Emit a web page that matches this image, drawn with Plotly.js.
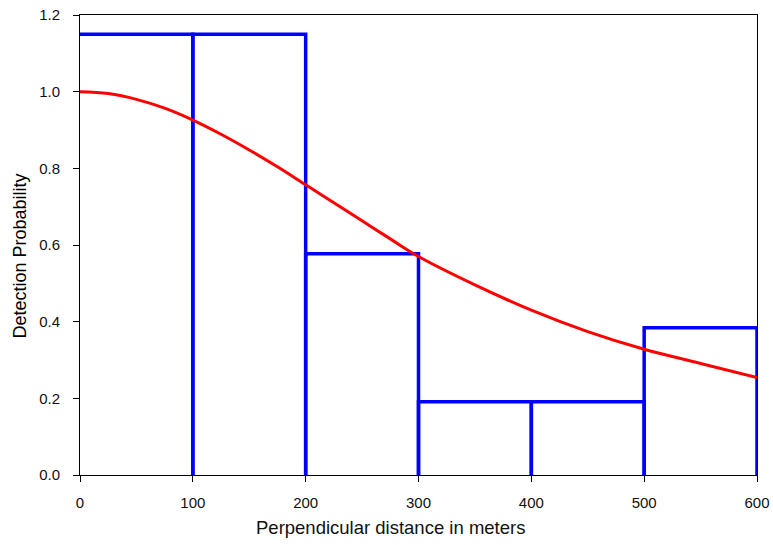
<!DOCTYPE html>
<html>
<head>
<meta charset="utf-8">
<script src="https://cdn.plot.ly/plotly-3.0.1.min.js"></script>
<style>html,body{margin:0;padding:0;background:#fff;}#chart{width:773px;height:545px;}</style>
</head>
<body>
<div id="chart"></div>
<script>
// Histogram bins (perpendicular distance, m) and scaled heights
const binEdges = [0, 100, 200, 300, 400, 500, 600];
const binHeights = [1.15, 1.15, 0.577, 0.191, 0.191, 0.384];

// Fitted detection function
const curveX = [0, 25, 50, 75, 100, 125, 150, 175, 200, 225, 250, 275, 300, 350, 400, 450, 500, 550, 600];
const curveY = [1.0, 0.995, 0.980, 0.957, 0.926, 0.889, 0.848, 0.804, 0.757, 0.710, 0.663, 0.616, 0.570, 0.496, 0.430, 0.374, 0.328, 0.291, 0.254];

const xTicks = [0, 100, 200, 300, 400, 500, 600];
const yTicks = [0, 0.2, 0.4, 0.6, 0.8, 1.0, 1.2];

const xTitle = 'Perpendicular distance in meters';
const yTitle = 'Detection Probability';

// Build bar outlines; the first bar's left edge lies on the axis line, so start at its top
const hx = [], hy = [];
for (let i = 0; i < binHeights.length; i++) {
  if (i === 0) {
    hx.push(binEdges[i], binEdges[i + 1], binEdges[i + 1], null);
    hy.push(binHeights[i], binHeights[i], 0, null);
  } else {
    hx.push(binEdges[i], binEdges[i], binEdges[i + 1], binEdges[i + 1], null);
    hy.push(0, binHeights[i], binHeights[i], 0, null);
  }
}

const traces = [
  {x: hx, y: hy, mode: 'lines', type: 'scatter', line: {color: '#0000ff', width: 3.5}, hoverinfo: 'skip', connectgaps: false},
  {x: curveX, y: curveY, mode: 'lines', type: 'scatter', line: {color: '#ff0000', width: 3, shape: 'spline', smoothing: 1}, hoverinfo: 'skip'}
];

const layout = {
  width: 773, height: 545,
  margin: {l: 80, r: 16, t: 15, b: 70},
  paper_bgcolor: '#ffffff', plot_bgcolor: '#ffffff',
  showlegend: false,
  font: {family: 'Liberation Sans, Arial, sans-serif', size: 14, color: '#000'},
  xaxis: {
    range: [0, 600], tickvals: xTicks, ticktext: xTicks.map(String),
    showgrid: false, zeroline: false, showline: true, linecolor: '#000', linewidth: 1, mirror: true,
    ticks: 'outside', ticklen: 6, tickcolor: '#000', ticklabelstandoff: 8,
    tickfont: {size: 15, color: '#111'}
  },
  yaxis: {
    range: [0, 1.2], tickvals: yTicks, ticktext: yTicks.map(v => v.toFixed(1)),
    showgrid: false, zeroline: false, showline: true, linecolor: '#000', linewidth: 1, mirror: true,
    ticks: 'outside', ticklen: 6, tickcolor: '#000', ticklabelstandoff: 10,
    tickfont: {size: 15, color: '#111'}
  },
  annotations: [
    {text: xTitle, xref: 'paper', yref: 'paper', x: 0.459, y: -0.115, xanchor: 'center', yanchor: 'middle',
     showarrow: false, font: {size: 18.5, color: '#111'}},
    {text: yTitle, xref: 'paper', yref: 'paper', x: -0.088, y: 0.476, xanchor: 'center', yanchor: 'middle',
     textangle: -90, showarrow: false, font: {size: 18, color: '#000'}}
  ]
};

Plotly.newPlot('chart', traces, layout, {displayModeBar: false, staticPlot: true});
</script>
</body>
</html>
